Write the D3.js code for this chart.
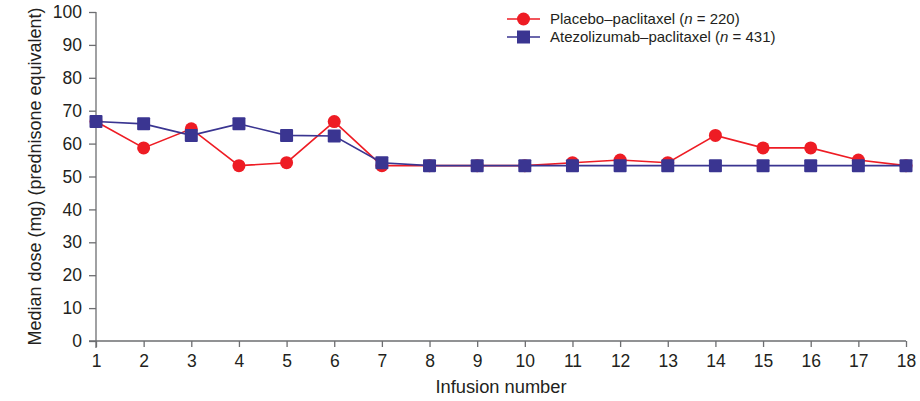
<!DOCTYPE html>
<html>
<head>
<meta charset="utf-8">
<script src="https://cdn.jsdelivr.net/npm/d3@7"></script>
<style>
  body { margin: 0; background: #fff; }
  svg text { font-family: "Liberation Sans", Arial, sans-serif; fill: #231f20; }
</style>
</head>
<body>
<svg id="chart" width="920" height="401"></svg>
<script>
const infusions = d3.range(1, 19);
const placebo = [66.7, 58.7, 64.5, 53.3, 54.2, 66.7, 53.3, 53.3, 53.3, 53.3, 54.2, 55, 54.2, 62.5, 58.7, 58.7, 55, 53.3];
const atezo = [66.7, 66, 62.5, 66, 62.5, 62.3, 54.2, 53.3, 53.3, 53.3, 53.3, 53.3, 53.3, 53.3, 53.3, 53.3, 53.3, 53.3];
const yTicks = d3.range(0, 101, 10);
const seriesNames = ["Placebo\u2013paclitaxel", "Atezolizumab\u2013paclitaxel"];
const seriesN = [220, 431];

const svg = d3.select("#chart");
const margin = { left: 96, right: 14, top: 12, bottom: 60 };
const width = 920, height = 401;

const x = d3.scaleLinear().domain([1, 18]).range([margin.left, width - margin.right]);
const y = d3.scaleLinear().domain([0, 100]).range([height - margin.bottom, margin.top]);

const axisColor = "#6d6e71";

// y axis
const yAxis = svg.append("g")
  .attr("transform", `translate(${margin.left},0)`)
  .call(d3.axisLeft(y).tickValues(yTicks).tickSize(7).tickPadding(7).tickSizeOuter(0));
yAxis.select(".domain").attr("stroke", axisColor).attr("stroke-width", 1.3)
  .attr("d", `M0,${y(100)}V${y(0) + 7}`);
yAxis.selectAll(".tick line").attr("stroke", axisColor).attr("stroke-width", 1.3);
yAxis.selectAll(".tick text").attr("font-size", 17.5).attr("fill", "#231f20");

// x axis
const xAxis = svg.append("g")
  .attr("transform", `translate(0,${y(0)})`)
  .call(d3.axisBottom(x).tickValues(infusions).tickFormat(d3.format("d")).tickSize(6).tickPadding(8).tickSizeOuter(0));
xAxis.select(".domain").attr("stroke", axisColor).attr("stroke-width", 1.3)
  .attr("d", `M${margin.left - 7},0H${x(18)}`);
xAxis.selectAll(".tick line").attr("stroke", axisColor).attr("stroke-width", 1.3);
xAxis.selectAll(".tick text").attr("font-size", 17.5).attr("fill", "#231f20");

// axis titles
svg.append("text")
  .attr("transform", `translate(41,${(y(0) + y(100)) / 2}) rotate(-90)`)
  .attr("text-anchor", "middle")
  .attr("font-size", 18)
  .text("Median dose (mg) (prednisone equivalent)");

svg.append("text")
  .attr("x", (x(1) + x(18)) / 2)
  .attr("y", 393)
  .attr("text-anchor", "middle")
  .attr("font-size", 18.3)
  .text("Infusion number");

const red = "#ee1c24";
const blue = "#3a3591";

const line = d3.line().x((d, i) => x(infusions[i])).y(d => y(d));

// placebo series
svg.append("path").datum(placebo)
  .attr("fill", "none").attr("stroke", red).attr("stroke-width", 1.6)
  .attr("d", line);
svg.selectAll("circle.placebo").data(placebo).join("circle")
  .classed("placebo", true)
  .attr("cx", (d, i) => x(infusions[i]))
  .attr("cy", d => y(d))
  .attr("r", 6.5)
  .attr("fill", red);

// atezolizumab series
svg.append("path").datum(atezo)
  .attr("fill", "none").attr("stroke", blue).attr("stroke-width", 1.6)
  .attr("d", line);
const sq = 13;
svg.selectAll("rect.atezo").data(atezo).join("rect")
  .classed("atezo", true)
  .attr("x", (d, i) => x(infusions[i]) - sq / 2)
  .attr("y", d => y(d) - sq / 2)
  .attr("width", sq).attr("height", sq)
  .attr("rx", 1)
  .attr("fill", blue);

// legend
const legend = svg.append("g").attr("transform", "translate(507,19)");
const items = [
  { name: seriesNames[0], n: seriesN[0], color: red, shape: "circle" },
  { name: seriesNames[1], n: seriesN[1], color: blue, shape: "square" }
];
const li = legend.selectAll("g").data(items).join("g")
  .attr("transform", (d, i) => `translate(0,${i * 18})`);
li.append("line").attr("x1", 0).attr("x2", 33)
  .attr("stroke", d => d.color).attr("stroke-width", 1.6);
li.filter(d => d.shape === "circle").append("circle")
  .attr("cx", 16.5).attr("r", 6.5).attr("fill", d => d.color);
li.filter(d => d.shape === "square").append("rect")
  .attr("x", 16.5 - sq / 2).attr("y", -sq / 2).attr("width", sq).attr("height", sq)
  .attr("fill", d => d.color);
const lt = li.append("text").attr("x", 43).attr("dy", "0.35em").attr("font-size", 15);
lt.append("tspan").text(d => d.name + " (");
lt.append("tspan").attr("font-style", "italic").text("n");
lt.append("tspan").text(d => " = " + d.n + ")");
</script>
</body>
</html>
